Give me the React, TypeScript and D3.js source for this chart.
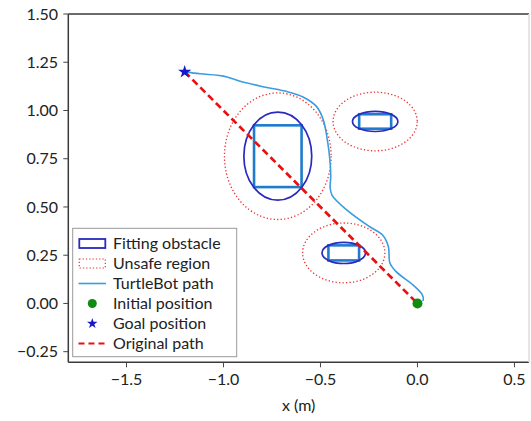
import React from 'react';
import * as d3 from 'd3';

// obstacles fitted as rectangles: centre x, centre y, width, height (m)
const obstacleCx = [-0.72, -0.218, -0.38];
const obstacleCy = [0.763, 0.943, 0.262];
const obstacleW = [0.245, 0.165, 0.158];
const obstacleH = [0.32, 0.075, 0.078];
// fitted ellipse semi-axes
const ellipseA = [0.175, 0.117, 0.112];
const ellipseB = [0.228, 0.052, 0.055];
// unsafe region margin
const safetyMargin = [0.1, 0.1, 0.1];

const startPos: [number, number] = [0, 0];
const goalPos: [number, number] = [-1.2, 1.2];

const pathX = [-1.2, -1.12, -1.0, -0.91, -0.79, -0.67, -0.59, -0.52, -0.485, -0.465, -0.452, -0.447,
  -0.45, -0.44, -0.365, -0.25, -0.18, -0.15, -0.142, -0.11, -0.023, 0.02, 0.03, 0.028];
const pathY = [1.2, 1.19, 1.178, 1.15, 1.122, 1.097, 1.07, 1.02, 0.95, 0.85, 0.75, 0.66,
  0.6, 0.56, 0.485, 0.4, 0.355, 0.295, 0.21, 0.165, 0.096, 0.053, 0.03, 0.012];

const xTicks = [-1.5, -1.0, -0.5, 0.0, 0.5];
const yTicks = [1.5, 1.25, 1.0, 0.75, 0.5, 0.25, 0.0, -0.25];
const legendLabels = ['Fitting obstacle', 'Unsafe region', 'TurtleBot path', 'Initial position', 'Goal position', 'Original path'];

const W = 531;
const H = 421;
const left = 68.3, right = 529, top = 14, bottom = 362.3;

const rectColor = '#1f7ccc';
const ellipseColor = '#2a2abf';
const unsafeColor = '#f03030';
const pathColor = '#3a9de0';
const font = 'Lato, "Open Sans", sans-serif';

export default function App() {
  const x = d3.scaleLinear().domain([-1.8, 0.575]).range([left, right]);
  const y = d3.scaleLinear().domain([-0.305, 1.5]).range([bottom, top]);

  const line = d3.line<number>()
    .x(i => x(pathX[i]))
    .y(i => y(pathY[i]))
    .curve(d3.curveCatmullRom.alpha(0.5));

  const star = d3.symbol().type(d3.symbolStar).size(55)();
  const starSmall = d3.symbol().type(d3.symbolStar).size(35)();
  const fmtY = d3.format('.2f');
  const fmtX = d3.format('.1f');

  const legX = 72.7, legY = 228.3, legW = 164, legH = 128.4;
  const rowY = (i: number) => 243.5 + i * 20;

  return (
    <svg width={W} height={H} style={{ position: 'absolute', left: 0, top: 0, background: '#fff' }}
      fontFamily={font}>
      <defs>
        <clipPath id="plot">
          <rect x={left} y={top} width={right - left} height={bottom - top} />
        </clipPath>
      </defs>

      <g clipPath="url(#plot)">
        {obstacleCx.map((cx, i) => (
          <ellipse key={'u' + i} cx={x(cx)} cy={y(obstacleCy[i])}
            rx={x(cx + ellipseA[i] + safetyMargin[i]) - x(cx)}
            ry={y(obstacleCy[i]) - y(obstacleCy[i] + ellipseB[i] + safetyMargin[i])}
            fill="none" stroke={unsafeColor} strokeWidth={1.3} strokeDasharray="1.3,2.2" />
        ))}
        {obstacleCx.map((cx, i) => (
          <rect key={'r' + i} x={x(cx - obstacleW[i] / 2)} y={y(obstacleCy[i] + obstacleH[i] / 2)}
            width={x(cx + obstacleW[i] / 2) - x(cx - obstacleW[i] / 2)}
            height={y(obstacleCy[i] - obstacleH[i] / 2) - y(obstacleCy[i] + obstacleH[i] / 2)}
            fill="none" stroke={rectColor} strokeWidth={2.6} />
        ))}
        {obstacleCx.map((cx, i) => (
          <ellipse key={'e' + i} cx={x(cx)} cy={y(obstacleCy[i])}
            rx={x(cx + ellipseA[i]) - x(cx)}
            ry={y(obstacleCy[i]) - y(obstacleCy[i] + ellipseB[i])}
            fill="none" stroke={ellipseColor} strokeWidth={1.7} />
        ))}
        <path d={line(d3.range(pathX.length)) ?? ''} fill="none" stroke={pathColor} strokeWidth={1.6} />
        <line x1={x(goalPos[0])} y1={y(goalPos[1])} x2={x(startPos[0])} y2={y(startPos[1])}
          stroke="#e81010" strokeWidth={2.7} strokeDasharray="7,4" />
        <circle cx={x(startPos[0])} cy={y(startPos[1])} r={5} fill="#108a10" />
        <path d={star} transform={`translate(${x(goalPos[0])},${y(goalPos[1])})`} fill="#1818c8" />
      </g>

      {/* frame */}
      <g stroke="#3a3a3a" strokeWidth={1.5} fill="none">
        <line x1={left} y1={top} x2={right} y2={top} />
        <line x1={left} y1={bottom} x2={right} y2={bottom} />
        <line x1={left} y1={top} x2={left} y2={bottom} />
        <line x1={right} y1={top} x2={right} y2={bottom} stroke="#ddd" />
      </g>

      {yTicks.map(t => (
        <g key={'y' + t} transform={`translate(0,${y(t)})`}>
          <line x1={left - 5} x2={left} stroke="#444" strokeWidth={1} />
          <text x={58} dy="0.35em" textAnchor="end" fontSize={16} fill="#222">{fmtY(t)}</text>
        </g>
      ))}
      {xTicks.map(t => (
        <g key={'x' + t} transform={`translate(${x(t)},0)`}>
          <line y1={bottom} y2={bottom + 5} stroke="#444" strokeWidth={1} />
          <text y={385} textAnchor="middle" fontSize={16} fill="#222">{fmtX(t)}</text>
        </g>
      ))}
      <text x={(left + right) / 2} y={411} textAnchor="middle" fontSize={16} fill="#222">x (m)</text>

      {/* legend */}
      <rect x={legX} y={legY} width={legW} height={legH} fill="#fff" stroke="#999" strokeWidth={1} />
      <rect x={79.3} y={rowY(0) - 4.5} width={26} height={9} fill="none" stroke={ellipseColor} strokeWidth={1.8} />
      <rect x={79.3} y={rowY(1) - 4.5} width={26} height={9} fill="none" stroke={unsafeColor} strokeWidth={1.2} strokeDasharray="1.3,2" />
      <line x1={78.5} x2={106} y1={rowY(2)} y2={rowY(2)} stroke={pathColor} strokeWidth={1.6} />
      <circle cx={92.3} cy={rowY(3)} r={4.5} fill="#108a10" />
      <path d={starSmall} transform={`translate(92.3,${rowY(4)})`} fill="#1818c8" />
      <line x1={78.5} x2={106} y1={rowY(5)} y2={rowY(5)} stroke="#e81010" strokeWidth={2.2} strokeDasharray="6,4" />
      {legendLabels.map((l, i) => (
        <text key={l} x={113} y={rowY(i)} dy="0.35em" fontSize={16} fill="#222">{l}</text>
      ))}
    </svg>
  );
}
